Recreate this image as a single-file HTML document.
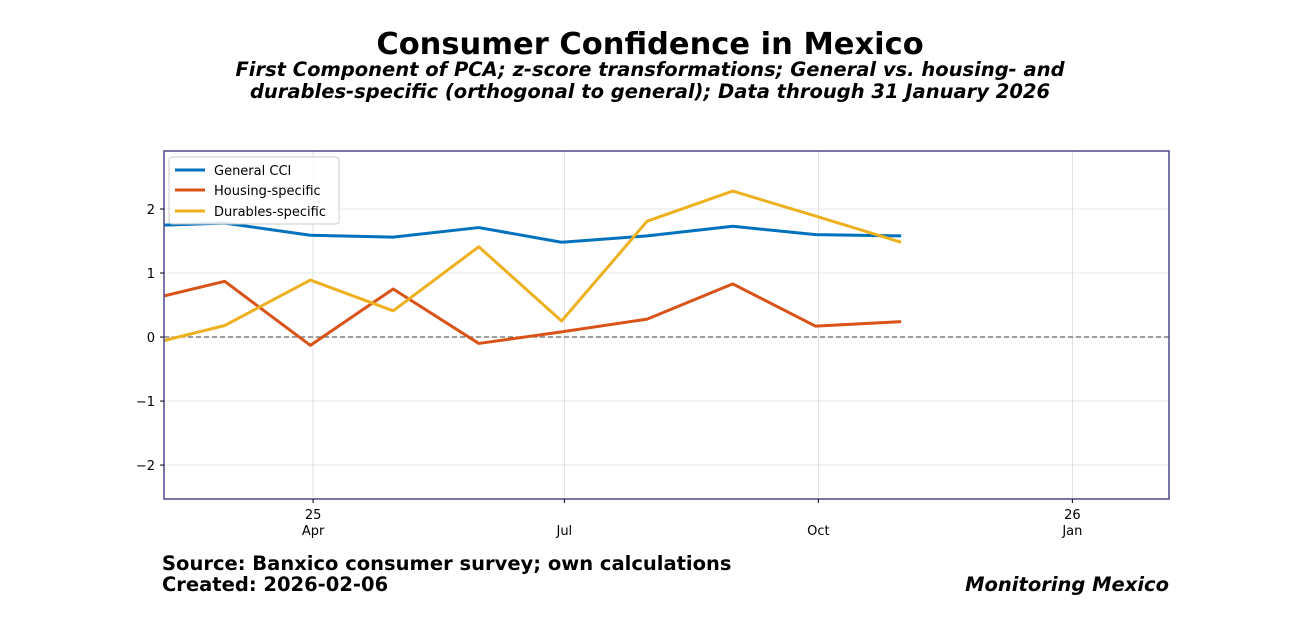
<!DOCTYPE html>
<html><head><meta charset="utf-8"><style>
body{margin:0;background:#fff;}
svg text{font-family:"DejaVu Sans","Liberation Sans",sans-serif;}
</style></head><body>
<svg id="chart" width="1300" height="620" xmlns="http://www.w3.org/2000/svg">
<rect width="1300" height="620" fill="#fff"/>
<text x="650" y="54" text-anchor="middle" font-size="30.5" font-weight="bold">Consumer Confidence in Mexico</text>
<text x="650" y="76" text-anchor="middle" font-size="19.5" font-weight="bold" font-style="italic">First Component of PCA; z-score transformations; General vs. housing- and</text>
<text x="650" y="98" text-anchor="middle" font-size="19.5" font-weight="bold" font-style="italic">durables-specific (orthogonal to general); Data through 31 January 2026</text>
<defs><clipPath id="pc"><rect x="164" y="151" width="1005" height="348"/></clipPath></defs>
<g id="grid"></g>
<g id="lines" clip-path="url(#pc)"></g>
<rect x="164" y="151" width="1005" height="348" fill="none" stroke="#4b4a8c" stroke-width="1.5"/>
<g id="axes"></g>
<g>
<rect x="169" y="157" width="170" height="67" rx="3" fill="#fff" fill-opacity="0.85" stroke="#ccc"/>
<line x1="175" y1="170" x2="205" y2="170" stroke="#0072bd" stroke-width="3"/>
<text x="214" y="175" font-size="13">General CCI</text>
<line x1="175" y1="190" x2="205" y2="190" stroke="#d95319" stroke-width="3"/>
<text x="214" y="195" font-size="13">Housing-specific</text>
<line x1="175" y1="211" x2="205" y2="211" stroke="#edb120" stroke-width="3"/>
<text x="214" y="216" font-size="13">Durables-specific</text>
</g>
<text x="162" y="570" font-size="19.5" font-weight="bold">Source: Banxico consumer survey; own calculations</text>
<text x="162" y="591" font-size="19.5" font-weight="bold">Created: 2026-02-06</text>
<text x="1169" y="591" text-anchor="end" font-size="19.5" font-weight="bold" font-style="italic">Monitoring Mexico</text>
</svg>
<script>
const dates = ["2025-01-31","2025-02-28","2025-03-31","2025-04-30","2025-05-31","2025-06-30","2025-07-31","2025-08-31","2025-09-30","2025-10-31"];
const generalCCI = [1.74,1.78,1.59,1.56,1.71,1.48,1.58,1.73,1.60,1.58];
const housingSpecific = [0.58,0.87,-0.13,0.75,-0.10,0.08,0.28,0.83,0.17,0.24];
const durablesSpecific = [-0.12,0.18,0.89,0.41,1.41,0.25,1.81,2.28,1.89,1.48];
const yTicks = [-2,-1,0,1,2];
const yTickLabels = ["\u22122","\u22121","0","1","2"];
const xTickDates = ["2025-04-01","2025-07-01","2025-10-01","2026-01-01"];
const xTickTop = ["25","","","26"];
const xTickBottom = ["Apr","Jul","Oct","Jan"];

const NS="http://www.w3.org/2000/svg";
const L=164,R=1169,T=151,B=499;
const x0=Date.parse("2025-02-06"),x1=Date.parse("2026-02-05");
const yMin=-2.53,yMax=2.906;
const X=d=>L+(Date.parse(d)-x0)/(x1-x0)*(R-L);
const Y=v=>B-(v-yMin)/(yMax-yMin)*(B-T);
function mk(tag,at,parent){const e=document.createElementNS(NS,tag);for(const k in at)e.setAttribute(k,at[k]);document.getElementById(parent).appendChild(e);return e;}
yTicks.forEach((v,i)=>{
  const g=mk("line",{x1:L,x2:R,y1:Y(v),y2:Y(v),stroke:"#e3e3e3","stroke-width":0.8},"grid");
  
  
  const tk=mk("line",{x1:L-4,x2:L,y1:Y(v),y2:Y(v),stroke:"#000"},"axes");
  
  
  const t=mk("text",{x:L-9,y:Y(v)+5,"text-anchor":"end","font-size":13},"axes");
  t.textContent=yTickLabels[i];
  
  
});
xTickDates.forEach((d,i)=>{
  const x=X(d);
  const g=mk("line",{x1:x,x2:x,y1:T,y2:B,stroke:"#d8d8d8","stroke-width":0.8},"grid");
  
  
  const tk=mk("line",{x1:x,x2:x,y1:B,y2:B+4,stroke:"#000"},"axes");
  
  
  if(xTickTop[i]){const t=mk("text",{x:x,y:519,"text-anchor":"middle","font-size":13},"axes");t.textContent=xTickTop[i];
  
  }
  const t2=mk("text",{x:x,y:535,"text-anchor":"middle","font-size":13},"axes");t2.textContent=xTickBottom[i];
  
  
});
const z=mk("line",{x1:L,x2:R,y1:Y(0),y2:Y(0),stroke:"#666","stroke-width":1.3,"stroke-dasharray":"5,3"},"lines");


[[generalCCI,"#0072bd","general-cci-line"],[housingSpecific,"#d95319","housing-specific-line"],[durablesSpecific,"#edb120","durables-specific-line"]].forEach(([vals,c,n])=>{
  const p=mk("polyline",{points:vals.map((v,i)=>X(dates[i])+","+Y(v)).join(" "),fill:"none",stroke:c,"stroke-width":3,"stroke-linejoin":"round"},"lines");
  
  
});
</script>
</body></html>
